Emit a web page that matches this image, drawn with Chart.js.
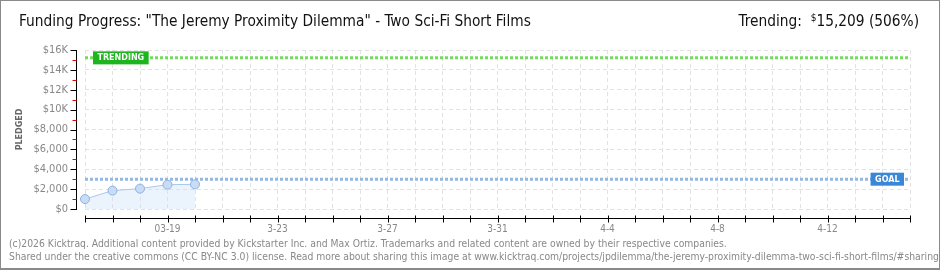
<!DOCTYPE html>
<html>
<head>
<meta charset="utf-8">
<script src="https://cdn.jsdelivr.net/npm/chart.js@4.4.1/dist/chart.umd.min.js"></script>
<style>
  html, body { margin: 0; padding: 0; background: #fff; }
  #wrap { position: relative; width: 940px; height: 270px; overflow: hidden; }
  #chart { position: absolute; left: 0; top: 0; }
  #frame { position: absolute; left: 0; top: 0; width: 940px; height: 270px; box-sizing: border-box;
           border: 1px solid #8a8a8a; border-bottom-width: 2px; pointer-events: none; }
  .title { position: absolute; left: 19px; top: 12px; font: 15.3px "DejaVu Sans Condensed", sans-serif; color: #111; white-space: nowrap; }
  .trend { position: absolute; right: 21px; top: 12px; font: 15.3px "DejaVu Sans Condensed", sans-serif; color: #111; white-space: nowrap; }
  .trend sup { font-size: 10px; vertical-align: 5px; }
  .foot { position: absolute; left: 9px; font: 10.3px "DejaVu Sans Condensed", sans-serif; color: #888; white-space: nowrap; }
</style>
</head>
<body>
<div id="wrap">
  <canvas id="chart" width="940" height="270"></canvas>
  <div class="title">Funding Progress: "The Jeremy Proximity Dilemma" - Two Sci-Fi Short Films</div>
  <div class="trend">Trending:&nbsp; <sup>$</sup>15,209 (506%)</div>
  <div class="foot" style="top:237px">(c)2026 Kicktraq. Additional content provided by Kickstarter Inc. and Max Ortiz. Trademarks and related content are owned by their respective companies.</div>
  <div class="foot" style="top:250px">Shared under the creative commons (CC BY-NC 3.0) license. Read more about sharing this image at www.kicktraq.com/projects/jpdilemma/the-jeremy-proximity-dilemma-two-sci-fi-short-films/#sharing</div>
  <div id="frame"></div>
</div>
<script>
const days = ['3-16', '3-17', '3-18', '03-19', '3-20', '3-21', '3-22', '3-23', '3-24', '3-25',
  '3-26', '3-27', '3-28', '3-29', '3-30', '3-31', '4-1', '4-2', '4-3', '4-4',
  '4-5', '4-6', '4-7', '4-8', '4-9', '4-10', '4-11', '4-12', '4-13', '4-14', '4-15'];
const pledged = [1000, 1850, 2050, 2450, 2480];
const goal = 3000;
const trending = 15209;

// reference lines with their little name tags
function refLine(ctx, area, y, lineColor, tagColor, text, side) {
  ctx.save();
  ctx.strokeStyle = lineColor;
  ctx.lineWidth = 3;
  ctx.setLineDash([3, 2]);
  ctx.beginPath();
  ctx.moveTo(area.left, y);
  ctx.lineTo(area.right, y);
  ctx.stroke();
  ctx.setLineDash([]);
  ctx.font = 'bold 8px "DejaVu Sans"';
  const w = ctx.measureText(text).width + 9;
  const x = side === 'left' ? area.left + 8 : area.right - 6 - w;
  ctx.fillStyle = tagColor;
  ctx.fillRect(x, y - 6.5, w, 13);
  ctx.fillStyle = '#fff';
  ctx.textBaseline = 'middle';
  ctx.fillText(text, x + 4.5, y + 0.5);
  ctx.restore();
}

const axesPlugin = {
  id: 'kicktraqAxes',
  beforeDatasetsDraw(chart) {
    const {ctx, chartArea, scales: {y}} = chart;
    refLine(ctx, chartArea, y.getPixelForValue(trending), '#74dc5c', '#1db51d', 'TRENDING', 'left');
    refLine(ctx, chartArea, y.getPixelForValue(goal), '#93b8e4', '#3a87d8', 'GOAL', 'right');
  },
  afterDraw(chart) {
    const {ctx, chartArea, scales: {x, y}} = chart;
    ctx.save();
    ctx.lineWidth = 1;
    // y axis
    const ax = chartArea.left - 8.5;
    ctx.strokeStyle = '#000';
    ctx.beginPath();
    ctx.moveTo(ax, chartArea.top);
    ctx.lineTo(ax, chartArea.bottom + 1);
    ctx.stroke();
    for (let v = 0; v <= 16000; v += 1000) {
      const py = Math.round(y.getPixelForValue(v)) + 0.5;
      const major = v % 2000 === 0;
      ctx.strokeStyle = major ? '#000' : '#e00';
      ctx.beginPath();
      ctx.moveTo(ax - (major ? 6 : 4), py);
      ctx.lineTo(ax, py);
      ctx.stroke();
    }
    // x axis
    const ay = chartArea.bottom + 9.5;
    ctx.strokeStyle = '#000';
    ctx.beginPath();
    ctx.moveTo(chartArea.left, ay);
    ctx.lineTo(chartArea.right + 1, ay);
    ctx.stroke();
    days.forEach((d, i) => {
      const px = Math.round(x.getPixelForValue(i)) + 0.5;
      ctx.beginPath();
      ctx.moveTo(px, ay - 3);
      ctx.lineTo(px, ay + 4);
      ctx.stroke();
    });
    ctx.restore();
  }
};

new Chart(document.getElementById('chart'), {
  type: 'line',
  data: {
    labels: days,
    datasets: [{
      label: 'Pledged',
      data: pledged,
      borderColor: '#a9c8ee',
      borderWidth: 1,
      backgroundColor: 'rgba(205,225,248,0.4)',
      fill: 'origin',
      tension: 0,
      pointRadius: 4.5,
      pointBackgroundColor: '#c8dcf6',
      pointBorderColor: '#8db1e0',
      pointBorderWidth: 1
    }]
  },
  options: {
    responsive: false,
    animation: false,
    layout: { padding: { left: 0, right: 30, top: 50, bottom: 0 } },
    plugins: { legend: { display: false }, tooltip: { enabled: false } },
    scales: {
      x: {
        type: 'category',
        offset: false,
        afterFit(scale) { scale.height = 61; },
        grid: { color: '#e2e2e2', drawTicks: false, offset: false },
        border: { display: false, dash: [4, 3] },
        ticks: {
          autoSkip: false,
          maxRotation: 0,
          padding: 14,
          color: '#888',
          font: { family: 'DejaVu Sans Condensed', size: 10 },
          callback: (v, i) => (i - 3) % 4 === 0 ? days[i] : ''
        }
      },
      y: {
        min: 0,
        max: 16000,
        afterFit(scale) { scale.width = 85; },
        grid: { color: '#e2e2e2', drawTicks: false },
        border: { display: false, dash: [4, 3] },
        ticks: {
          stepSize: 2000,
          padding: 17,
          color: '#888',
          font: { family: 'DejaVu Sans Condensed', size: 11 },
          callback: v => v >= 10000 ? '$' + v / 1000 + 'K' : '$' + v.toLocaleString('en-US')
        },
        title: {
          display: true,
          text: 'PLEDGED',
          color: '#666',
          padding: { top: 15 },
          font: { family: 'DejaVu Sans', size: 8, weight: 'bold' }
        }
      }
    }
  },
  plugins: [axesPlugin]
});
</script>
</body>
</html>
